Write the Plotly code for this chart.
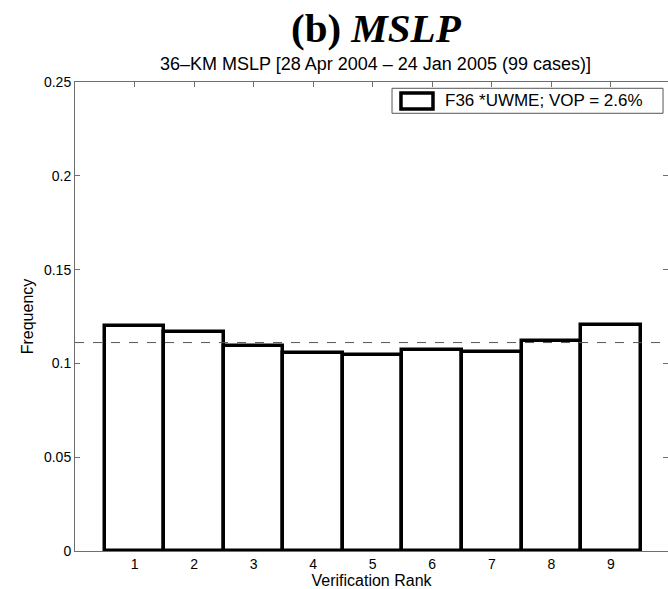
import plotly.graph_objects as go

# Rank histogram of verification rank (36-km MSLP, UWME ensemble)
ranks = [1, 2, 3, 4, 5, 6, 7, 8, 9]
frequency = [0.1200, 0.1167, 0.1094, 0.1057, 0.1044, 0.1071, 0.1059, 0.1119, 0.1203]
n_members_plus_one = len(ranks)
uniform_level = 1.0 / n_members_plus_one

y_ticks = [0, 0.05, 0.1, 0.15, 0.2, 0.25]
y_tick_text = ["0", "0.05", "0.1", "0.15", "0.2", "0.25"]

title_text = "<b>(b) <i>MSLP</i></b>"
subtitle_text = "36\u2013KM MSLP [28 Apr 2004 \u2013 24 Jan 2005 (99 cases)]"
legend_text = "F36 *UWME; VOP = 2.6%"

SANS = "Liberation Sans, Arial, Helvetica, sans-serif"
SERIF = "Liberation Serif, Times New Roman, serif"
AXIS_GREY = "#6e6e6e"

fig = go.Figure()

fig.add_trace(go.Bar(
    x=ranks,
    y=frequency,
    width=1.0,
    marker=dict(color="white", line=dict(color="black", width=3.5)),
    cliponaxis=False,
    showlegend=False,
    hoverinfo="x+y",
))

# invisible helper trace so the right-hand tick axis is drawn
fig.add_trace(go.Scatter(x=[None], y=[None], yaxis="y2", showlegend=False, hoverinfo="skip"))

# dashed reference line for a perfectly flat histogram
fig.add_shape(type="line", xref="paper", x0=0, x1=1, yref="y", y0=uniform_level, y1=uniform_level,
              line=dict(color="#555555", width=1, dash="dash"), layer="above")

# legend: outlined box, sample rectangle and label
fig.add_shape(type="rect", xref="paper", yref="paper", x0=0.5346, x1=0.9916, y0=0.9333, y1=0.9866,
              line=dict(color="#555555", width=1), fillcolor="white", layer="above")
fig.add_shape(type="rect", xref="paper", yref="paper", x0=0.5497, x1=0.6037, y0=0.9424, y1=0.9765,
              line=dict(color="black", width=3.5), fillcolor="white", layer="above")
fig.add_annotation(text=legend_text, xref="paper", yref="paper", x=0.6206, y=0.9595,
                   xanchor="left", yanchor="middle", showarrow=False,
                   font=dict(family=SANS, size=17, color="black"))

# titles
fig.add_annotation(text=title_text, xref="paper", yref="paper", x=0.509, y=1.1151,
                   xanchor="center", yanchor="middle", showarrow=False,
                   font=dict(family=SERIF, size=41, color="black"))
fig.add_annotation(text=subtitle_text, xref="paper", yref="paper", x=0.5067, y=1.0384,
                   xanchor="center", yanchor="middle", showarrow=False,
                   font=dict(family=SANS, size=18, color="black"))

fig.update_layout(
    width=668,
    height=589,
    margin=dict(l=75, r=0, t=82, b=38),
    paper_bgcolor="white",
    plot_bgcolor="white",
    bargap=0,
    xaxis=dict(
        range=[0, 9.96],
        tickvals=ranks,
        ticktext=[str(r) for r in ranks],
        ticks="inside",
        ticklen=5,
        tickcolor=AXIS_GREY,
        showline=True,
        linecolor=AXIS_GREY,
        linewidth=1,
        mirror="ticks",
        showgrid=False,
        zeroline=False,
        layer="below traces",
        tickfont=dict(family=SANS, size=14, color="black"),
        title=dict(text="Verification Rank", font=dict(family=SANS, size=16, color="black"), standoff=1),
    ),
    yaxis=dict(
        range=[0, 0.25],
        tickvals=y_ticks,
        ticktext=y_tick_text,
        ticks="inside",
        ticklen=5,
        tickcolor=AXIS_GREY,
        showline=True,
        linecolor=AXIS_GREY,
        linewidth=1,
        showgrid=False,
        zeroline=False,
        layer="below traces",
        tickfont=dict(family=SANS, size=14, color="black"),
        title=dict(text="Frequency", font=dict(family=SANS, size=16, color="black"), standoff=6),
    ),
    yaxis2=dict(
        overlaying="y",
        side="right",
        range=[0, 0.25],
        tickvals=y_ticks,
        ticks="inside",
        ticklen=5,
        tickcolor=AXIS_GREY,
        showticklabels=False,
        showline=False,
        showgrid=False,
        zeroline=False,
    ),
)

fig.write_html("out.html")
